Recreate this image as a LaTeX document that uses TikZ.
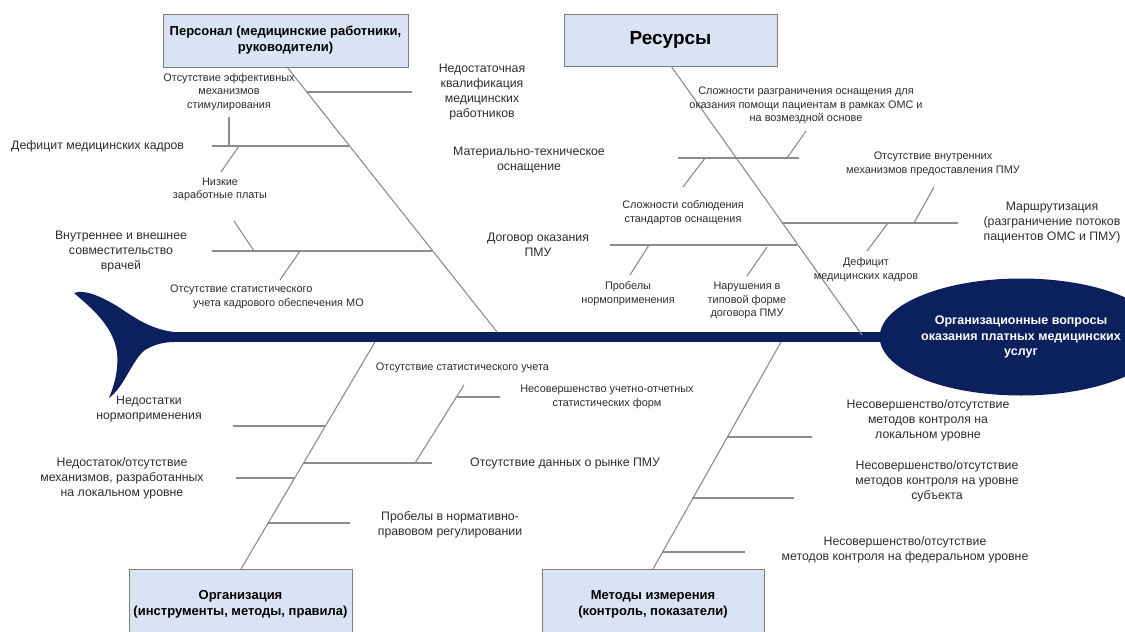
\documentclass[tikz,border=0pt]{standalone}
\usepackage{fontspec}
\setmainfont{Liberation Sans}
\usetikzlibrary{shapes.geometric}
\definecolor{navy}{RGB}{12,32,94}
\definecolor{boxfill}{RGB}{218,227,243}
\definecolor{boxline}{RGB}{125,125,125}
\definecolor{bonec}{RGB}{140,140,140}
\definecolor{txt}{RGB}{45,45,45}
\begin{document}
\begin{tikzpicture}[x=1pt,y=-1pt,
  catbox/.style={draw=boxline, line width=1pt, fill=boxfill, align=center, inner sep=0pt, text=black,
                 font=\bfseries\fontsize{13}{16}\selectfont},
  bone/.style={draw=bonec, line width=1.1pt},
  lbl/.style={font=\fontsize{12.3}{15}\selectfont, align=center, text=txt, inner sep=0pt},
  slbl/.style={font=\fontsize{10.9}{13.5}\selectfont, align=center, text=txt, inner sep=0pt},
]
\useasboundingbox (0,0) rectangle (1125,632);
\clip (0,0) rectangle (1125,632);

% ---------- spine and tail ----------
\coordinate (tailj) at (173,337);
\coordinate (spineend) at (960,337);
\draw[navy, line width=10pt] (tailj) -- (spineend);
\fill[navy] (174,332) .. controls (150,329) and (135,318) .. (117,306)
  .. controls (100,296) and (84,289) .. (74,293)
  .. controls (90,307) and (113,325) .. (117,352)
  .. controls (119,372) and (113,388) .. (109,398)
  .. controls (125,386) and (132,360) .. (145,350)
  .. controls (155,344) and (165,342) .. (174,342) -- cycle;

% ---------- head ----------
\node[ellipse, fill=navy, minimum width=214pt, minimum height=117pt, inner sep=0pt,
      text=white, align=center, font=\bfseries\fontsize{12.5}{15.5}\selectfont] (head) at (1021,337)
  {Организационные  вопросы\\оказания платных медицинских\\услуг};

% ---------- category boxes ----------
\node[catbox, minimum width=245pt, minimum height=53pt] (pers) at (285.5,40.5)
  {Персонал (медицинские  работники,\\руководители)};
\node[catbox, minimum width=213pt, minimum height=52pt, font=\bfseries\fontsize{19}{22}\selectfont] (res) at (670.5,40)
  {Ресурсы};
\node[catbox, minimum width=223pt, minimum height=70pt] (org) at (240.5,604)
  {Организация\\(инструменты,  методы, правила)};
\node[catbox, minimum width=222pt, minimum height=70pt] (meth) at (653,604)
  {Методы измерения\\(контроль, показатели)};

% ---------- main bones ----------
\coordinate (pA) at (287,67);   \coordinate (pB) at (497,332);
\coordinate (rA) at (671,66);   \coordinate (rB) at (862,335);
\coordinate (oA) at (241,569);  \coordinate (oB) at (375,342);
\coordinate (mA) at (653,569);  \coordinate (mB) at (781,342);
\draw[bone] (pA) -- (pB);
\draw[bone] (rA) -- (rB);
\draw[bone] (oA) -- (oB);
\draw[bone] (mA) -- (mB);

% ---------- Персонал ----------
\coordinate (p1a) at (307,92);  \coordinate (p1b) at (412,92);
\draw[bone] (p1a) -- (p1b);
\node[lbl] (l_kval) at (482,92.5) {Недостаточная\\квалификация\\медицинских\\работников};

\coordinate (p2a) at (212,146); \coordinate (p2b) at (349,146);
\draw[bone] (p2a) -- (p2b);
\node[lbl, anchor=west] (l_def) at (11,146) {Дефицит медицинских  кадров};
\node[slbl] (l_stim) at (229,92) {Отсутствие эффективных\\механизмов\\стимулирования};
\coordinate (p2t1) at (229,117); \coordinate (p2t1b) at (229,146);
\draw[bone] (p2t1) -- (p2t1b);
\coordinate (p2t2) at (239,146); \coordinate (p2t2b) at (221,172);
\draw[bone] (p2t2) -- (p2t2b);
\node[slbl] (l_zp) at (220,189.5) {Низкие\\заработные платы};

\coordinate (p3a) at (212,251); \coordinate (p3b) at (432,251);
\draw[bone] (p3a) -- (p3b);
\node[lbl] (l_sovm) at (121,252) {Внутреннее и внешнее\\совместительство\\врачей};
\coordinate (p3t1) at (234,221); \coordinate (p3t1b) at (254,251);
\draw[bone] (p3t1) -- (p3t1b);
\coordinate (p3t2) at (300,251); \coordinate (p3t2b) at (280,280);
\draw[bone] (p3t2) -- (p3t2b);
\node[slbl, align=left, anchor=north west] (l_stat) at (170,285)
  {Отсутствие статистического\\\hspace*{23pt}учета кадрового обеспечения МО};

% ---------- Ресурсы ----------
\coordinate (r1a) at (678,158); \coordinate (r1b) at (799,158);
\draw[bone] (r1a) -- (r1b);
\node[lbl] (l_mto) at (529,159.5) {Материально-техническое\\оснащение};
\node[slbl] (l_razgr) at (806,105.5) {Сложности разграничения оснащения для\\оказания помощи пациентам  в рамках ОМС и\\на возмездной основе};
\coordinate (r1t1) at (806,131); \coordinate (r1t1b) at (787,158);
\draw[bone] (r1t1) -- (r1t1b);
\coordinate (r1t2) at (705,158); \coordinate (r1t2b) at (683,187);
\draw[bone] (r1t2) -- (r1t2b);
\node[slbl] (l_stand) at (683,212.5) {Сложности соблюдения\\стандартов оснащения};

\coordinate (r2a) at (610,245); \coordinate (r2b) at (797,245);
\draw[bone] (r2a) -- (r2b);
\node[lbl] (l_dog) at (538,245) {Договор оказания\\ПМУ};
\coordinate (r2t1) at (649,245); \coordinate (r2t1b) at (630,275);
\draw[bone] (r2t1) -- (r2t1b);
\node[slbl] (l_prob) at (628,293.5) {Пробелы\\нормоприменения};
\coordinate (r2t2) at (767,247); \coordinate (r2t2b) at (747,276);
\draw[bone] (r2t2) -- (r2t2b);
\node[slbl] (l_nar) at (747,300.5) {Нарушения в\\типовой форме\\договора ПМУ};

\coordinate (r3a) at (782,223); \coordinate (r3b) at (958,223);
\draw[bone] (r3a) -- (r3b);
\node[lbl] (l_marsh) at (1052,223) {Маршрутизация\\(разграничение потоков\\пациентов ОМС и ПМУ)};
\coordinate (r3t1) at (934,187); \coordinate (r3t1b) at (914,223);
\draw[bone] (r3t1) -- (r3t1b);
\node[slbl] (l_vnutr) at (933,164) {Отсутствие внутренних\\механизмов предоставления ПМУ};
\coordinate (r3t2) at (888,223); \coordinate (r3t2b) at (867,251);
\draw[bone] (r3t2) -- (r3t2b);
\node[slbl] (l_def2) at (866,269.5) {Дефицит\\медицинских кадров};

% ---------- Организация ----------
\coordinate (o1a) at (233,426); \coordinate (o1b) at (325,426);
\draw[bone] (o1a) -- (o1b);
\node[lbl] (l_nedost) at (149,409) {Недостатки\\нормоприменения};

\coordinate (o2a) at (304,463); \coordinate (o2b) at (432,463);
\draw[bone] (o2a) -- (o2b);
\node[lbl, anchor=west] (l_rynok) at (470,463) {Отсутствие данных о рынке ПМУ};
\coordinate (o2s) at (415,463); \coordinate (o2sb) at (464,385);
\draw[bone] (o2s) -- (o2sb);
\coordinate (o2h) at (457,397); \coordinate (o2hb) at (500,397);
\draw[bone] (o2h) -- (o2hb);
\node[slbl] (l_statu) at (462.5,368) {Отсутствие статистического учета};
\node[slbl] (l_forms) at (607,397) {Несовершенство учетно-отчетных\\статистических форм};

\coordinate (o3a) at (236,478); \coordinate (o3b) at (295,478);
\draw[bone] (o3a) -- (o3b);
\node[lbl] (l_mech) at (122,478) {Недостаток/отсутствие\\механизмов, разработанных\\на локальном уровне};

\coordinate (o4a) at (268,523); \coordinate (o4b) at (350,523);
\draw[bone] (o4a) -- (o4b);
\node[lbl] (l_norm) at (450,524.5) {Пробелы в нормативно-\\правовом регулировании};

% ---------- Методы ----------
\coordinate (m1a) at (727,437); \coordinate (m1b) at (812,437);
\draw[bone] (m1a) -- (m1b);
\node[lbl] (l_lok) at (928,420) {Несовершенство/отсутствие\\методов контроля на\\локальном уровне};

\coordinate (m2a) at (692,498); \coordinate (m2b) at (794,498);
\draw[bone] (m2a) -- (m2b);
\node[lbl] (l_subj) at (937,481) {Несовершенство/отсутствие\\методов контроля на уровне\\субъекта};

\coordinate (m3a) at (662,552); \coordinate (m3b) at (745,552);
\draw[bone] (m3a) -- (m3b);
\node[lbl] (l_fed) at (905,549.5) {Несовершенство/отсутствие\\методов контроля на федеральном уровне};
\end{tikzpicture}
\end{document}
